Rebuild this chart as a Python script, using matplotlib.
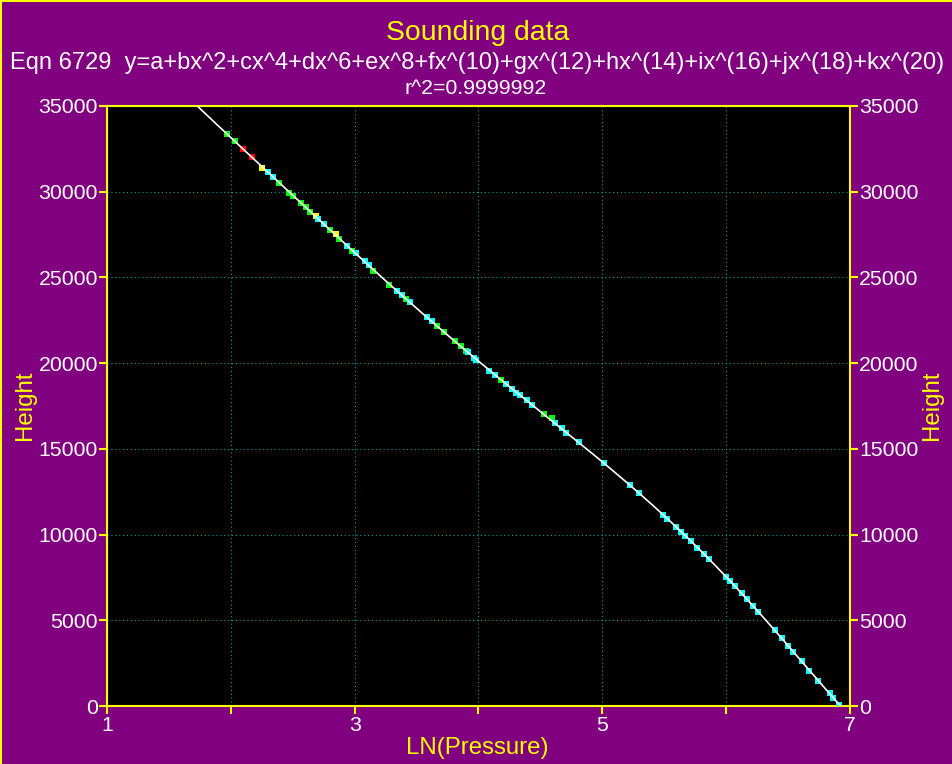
import numpy as np
import matplotlib
matplotlib.use("Agg")
import matplotlib.pyplot as plt
from matplotlib.lines import Line2D
from matplotlib.ticker import FuncFormatter

plt.rcParams['font.family'] = ['Liberation Sans', 'DejaVu Sans']

# Sounding observations: natural log of pressure vs. geopotential height
ln_pressure = [
    1.967, 2.034, 2.101, 2.171, 2.254, 2.303, 2.343, 2.391, 2.470, 2.504,
    2.569, 2.605, 2.639, 2.685, 2.702, 2.752, 2.801, 2.847, 2.876, 2.941,
    2.981, 3.011, 3.084, 3.118, 3.151, 3.277, 3.339, 3.380, 3.415, 3.447,
    3.582, 3.622, 3.662, 3.721, 3.810, 3.856, 3.897, 3.918, 3.964, 3.980,
    4.087, 4.133, 4.179, 4.222, 4.268, 4.303, 4.335, 4.389, 4.430, 4.529,
    4.591, 4.618, 4.672, 4.707, 4.814, 5.016, 5.224, 5.299, 5.488, 5.525,
    5.595, 5.633, 5.668, 5.714, 5.767, 5.824, 5.864, 5.999, 6.031, 6.071,
    6.126, 6.166, 6.219, 6.260, 6.394, 6.453, 6.497, 6.542, 6.610, 6.669,
    6.744, 6.839, 6.865, 6.914,
]
height = [
    33367, 32976, 32474, 32008, 31401, 31133, 30841, 30491, 29943, 29768,
    29359, 29091, 28834, 28601, 28408, 28099, 27767, 27516, 27242, 26851,
    26542, 26407, 25958, 25725, 25393, 24576, 24226, 23975, 23742, 23584,
    22709, 22476, 22167, 21834, 21274, 21000, 20708, 20632, 20282, 20183,
    19524, 19308, 19017, 18766, 18474, 18276, 18141, 17850, 17558, 17016,
    16783, 16526, 16199, 15943, 15418, 14193, 12892, 12408, 11142, 10908,
    10424, 10168, 9917, 9643, 9199, 8849, 8557, 7543, 7309, 7018,
    6574, 6224, 5833, 5501, 4433, 3949, 3518, 3167, 2625, 2059,
    1458, 741, 484, 50,
]
# residual class of each observation
point_class = [
    'g', 'g', 'r', 'r', 'y', 'c', 'c', 'g', 'g', 'g',
    'g', 'g', 'g', 'y', 'c', 'c', 'g', 'y', 'g', 'c',
    'g', 'c', 'c', 'c', 'g', 'g', 'c', 'c', 'g', 'c',
    'c', 'c', 'g', 'g', 'g', 'g', 'g', 'c', 'c', 'c',
    'c', 'c', 'g', 'c', 'c', 'c', 'c', 'c', 'c', 'g',
    'g', 'c', 'c', 'c', 'c', 'c', 'c', 'c', 'c', 'c',
    'c', 'c', 'c', 'c', 'c', 'c', 'c', 'c', 'c', 'c',
    'c', 'c', 'c', 'c', 'c', 'c', 'c', 'c', 'c', 'c',
    'c', 'c', 'c', 'c',
]
class_colors = {'c': '#00FFFF', 'g': '#00FF00', 'y': '#FFFF00', 'r': '#FF0000'}

x_ticks = [1, 2, 3, 4, 5, 6, 7]
y_ticks = [0, 5000, 10000, 15000, 20000, 25000, 30000, 35000]

title = "Sounding data"
equation = "Eqn 6729  y=a+bx^2+cx^4+dx^6+ex^8+fx^(10)+gx^(12)+hx^(14)+ix^(16)+jx^(18)+kx^(20)"
r_squared = "r^2=0.9999992"

PURPLE = '#800080'
YELLOW = '#FFFF00'
GRID = '#009C9C'

W, H = 953, 764
fig = plt.figure(figsize=(W / 100, H / 100), dpi=100, facecolor=PURPLE)
ax = fig.add_axes([107 / W, (H - 706) / H, 743 / W, 600 / H], facecolor='black')

x = np.array(ln_pressure)
y = np.array(height)

# smooth curve fitted through the observations
fit = np.polynomial.Polynomial.fit(x, y, 6)
xf = np.linspace(1.6, 6.93, 600)
ax.plot(xf, fit(xf), color='white', lw=1.2, zorder=4)

colors = [class_colors[c] for c in point_class]
ax.scatter(x, y, s=18, marker='s', c=colors, edgecolors='none', zorder=3)

ax.set_xlim(1, 7)
ax.set_ylim(0, 35000)
ax.set_xticks(x_ticks)
ax.set_yticks(y_ticks)
ax.xaxis.set_major_formatter(FuncFormatter(lambda v, p: f"{int(round(v))}" if int(round(v)) % 2 == 1 else ""))
ax.yaxis.set_major_formatter(FuncFormatter(lambda v, p: f"{int(v)}"))
ax.tick_params(axis='both', colors=YELLOW, labelcolor='white', labelsize=15.3,
               length=5.5, width=1.5, direction='out')
ax.tick_params(axis='y', right=True, labelright=True, pad=1)
ax.tick_params(axis='x', pad=2)
for lbl in ax.get_xticklabels() + ax.get_yticklabels():
    lbl.set_color('white')

for s in ax.spines.values():
    s.set_color(YELLOW)
    s.set_linewidth(1.5)

ax.grid(True, color=GRID, linestyle=(0, (1, 2.5)), lw=0.8)
ax.set_axisbelow(True)

# titles and axis labels
fig.text(478 / W, 1 - 33 / H, title, color=YELLOW, fontsize=20.4, ha='center', va='center')
fig.text(10 / W, 1 - 63 / H, equation, color='white', fontsize=17.0, ha='left', va='center')
fig.text(476 / W, 1 - 89 / H, r_squared, color='white', fontsize=15.3, ha='center', va='center')
fig.text(477 / W, 1 - 748 / H, "LN(Pressure)", color=YELLOW, fontsize=17.3, ha='center', va='center')
fig.text(25 / W, 1 - 405 / H, "Height", color=YELLOW, fontsize=17.3, rotation=90, ha='center', va='center')
fig.text(932 / W, 1 - 405 / H, "Height", color=YELLOW, fontsize=17.3, rotation=90, ha='center', va='center')

# frame along the top and left edges
fig.add_artist(Line2D([0, 1], [1 - 1 / H, 1 - 1 / H], transform=fig.transFigure, color=YELLOW, lw=1.5))
fig.add_artist(Line2D([1 / W, 1 / W], [0, 1], transform=fig.transFigure, color=YELLOW, lw=1.5))

fig.savefig("out.png", dpi=100, facecolor=PURPLE)
